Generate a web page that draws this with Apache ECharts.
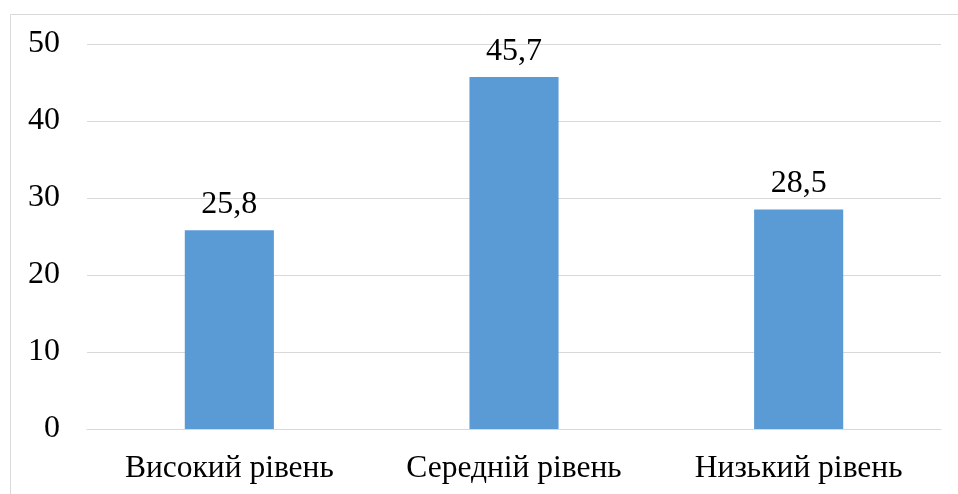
<!DOCTYPE html>
<html><head><meta charset="utf-8">
<script src="https://cdn.jsdelivr.net/npm/echarts@6/dist/echarts.min.js"></script>
<style>html,body{margin:0;padding:0;background:#fff}#c{width:958px;height:494px}</style>
</head><body><div id="c"></div>
<script>
const categories = ['Високий рівень', 'Середній рівень', 'Низький рівень'];
const values = [25.8, 45.7, 28.5];
const yTicks = [0, 10, 20, 30, 40, 50];

const font = '"Liberation Serif", "Times New Roman", serif';
const chart = echarts.init(document.getElementById('c'), null, {renderer: 'canvas'});
chart.setOption({
  animation: false,
  backgroundColor: '#fff',
  graphic: [{
    type: 'rect', silent: true,
    shape: {x: 10.5, y: 14.5, width: 1000, height: 600},
    style: {fill: 'none', stroke: '#d9d9d9', lineWidth: 1}
  }],
  grid: {left: 87, right: 17, top: 44, bottom: 65, containLabel: false},
  xAxis: {
    type: 'category', data: categories,
    axisLine: {show: true, lineStyle: {color: '#d9d9d9', width: 1}},
    axisTick: {show: false},
    axisLabel: {color: '#000', fontFamily: font, fontSize: 31.5, margin: 24}
  },
  yAxis: {
    type: 'value', min: yTicks[0], max: yTicks[yTicks.length - 1], interval: 10,
    axisLine: {show: false}, axisTick: {show: false},
    splitLine: {lineStyle: {color: '#d9d9d9', width: 1}},
    axisLabel: {color: '#000', fontFamily: font, fontSize: 32, margin: 27}
  },
  series: [{
    type: 'bar', data: values, barWidth: '31.3%',
    itemStyle: {color: '#5B9BD5'},
    label: {
      show: true, position: 'top', distance: 10,
      color: '#000', fontFamily: font, fontSize: 32,
      formatter: p => String(p.value).replace('.', ',')
    }
  }]
});
</script></body></html>
